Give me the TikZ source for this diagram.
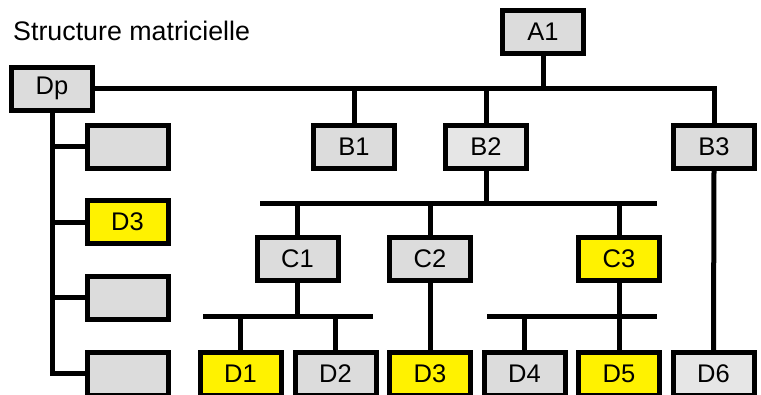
\documentclass[tikz,border=0pt]{standalone}
\usepackage{fontspec}
\setmainfont{Liberation Sans}
\begin{document}
\begin{tikzpicture}[x=1pt,y=-1pt,
  box/.style={draw=black, line width=5pt, fill=boxgray, minimum width=81pt,
    minimum height=43pt, inner sep=0pt, font=\fontsize{25.5}{30}\selectfont},
  pale/.style={fill=boxpale},
  hot/.style={fill=yellow},
  link/.style={line width=5pt, line cap=butt, line join=miter}]
\definecolor{boxgray}{RGB}{220,220,220}
\definecolor{boxpale}{RGB}{230,230,230}
\useasboundingbox (0,0) rectangle (761,394);

% title
\node[anchor=base west, inner sep=0pt, font=\fontsize{26.8}{31}\selectfont] (title) at (13,40.5) {Structure matricielle};

% boxes
\node[box] (A1) at (543,32) {A1};
\node[box] (Dp) at (52,88.5) {Dp};
\node[box] (L1) at (127.5,146.5) {};
\node[box,hot] (L2) at (127.5,222) {D3};
\node[box] (L3) at (127.5,297.5) {};
\node[box] (L4) at (127.5,373.5) {};

\node[box] (B1) at (354,147) {B1};
\node[box,pale] (B2) at (486,147) {B2};
\node[box] (B3) at (714,147) {B3};

\node[box] (C1) at (297.5,259) {C1};
\node[box] (C2) at (430,259) {C2};
\node[box,hot] (C3) at (619,259) {C3};

\node[box,hot] (D1) at (240.5,374) {D1};
\node[box] (D2) at (335.5,374) {D2};
\node[box,hot] (D3) at (430,374) {D3};
\node[box] (D4) at (524.5,374) {D4};
\node[box,hot] (D5) at (619,374) {D5};
\node[box,pale] (D6) at (713.5,374) {D6};

% bus coordinates
\coordinate (busA) at (543,89);
\coordinate (busB1) at (260,203);
\coordinate (busB2) at (657,203);
\coordinate (busC1) at (203,316);
\coordinate (busC2) at (373,316);
\coordinate (busD1) at (487,316);
\coordinate (busD2) at (657,316);

% top level
\draw[link] (Dp.east) -| (B3.north);
\draw[link] (A1.south) -- (busA);
\draw[link] (B1.north) -- (B1.north |- busA);
\draw[link] (B2.north) -- (B2.north |- busA);

% staff column on the left
\draw[link] (Dp.south) |- (L4.west);
\draw[link] (Dp.south |- L1.west) -- (L1.west);
\draw[link] (Dp.south |- L2.west) -- (L2.west);
\draw[link] (Dp.south |- L3.west) -- (L3.west);

% B3 straight down to D6
\draw[link] (B3.south) -- (D6.north);

% B2 branch
\draw[link] (B2.south) -- (B2.south |- busB1);
\draw[link] (busB1) -- (busB2);
\draw[link] (C1.north |- busB1) -- (C1.north);
\draw[link] (C2.north |- busB1) -- (C2.north);
\draw[link] (C3.north |- busB1) -- (C3.north);

% C1 branch
\draw[link] (C1.south) -- (C1.south |- busC1);
\draw[link] (busC1) -- (busC2);
\draw[link] (D1.north |- busC1) -- (D1.north);
\draw[link] (D2.north |- busC1) -- (D2.north);

% C2 straight down to D3
\draw[link] (C2.south) -- (D3.north);

% C3 branch
\draw[link] (C3.south) -- (D5.north);
\draw[link] (busD1) -- (busD2);
\draw[link] (D4.north |- busD1) -- (D4.north);
\end{tikzpicture}
\end{document}
